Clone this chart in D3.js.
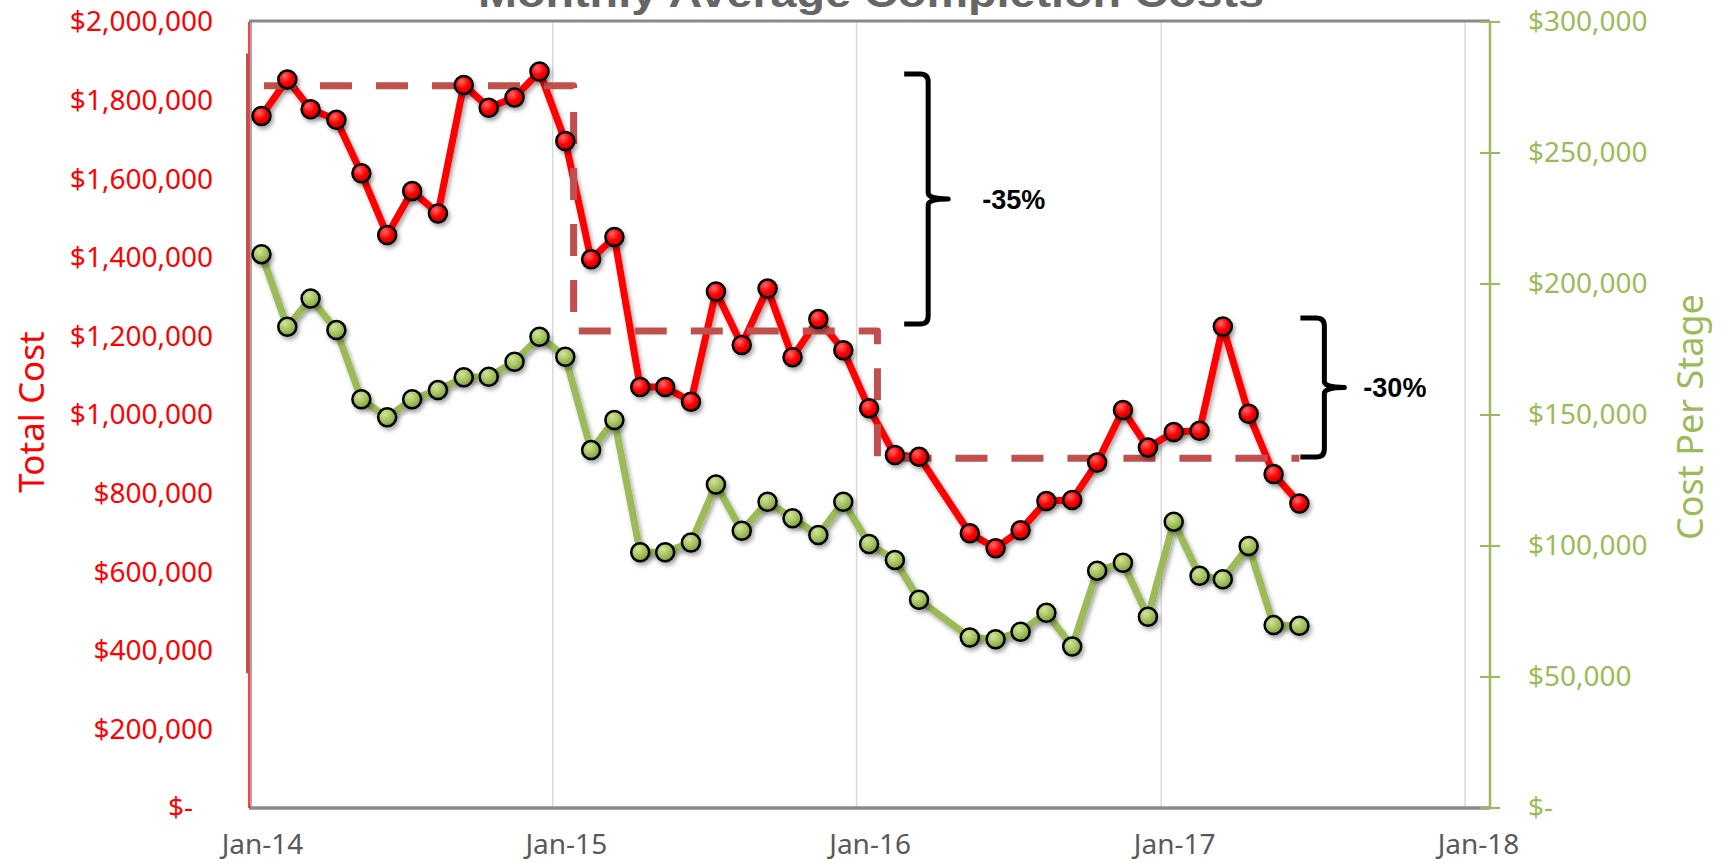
<!DOCTYPE html>
<html><head><meta charset="utf-8">
<script src="https://cdn.jsdelivr.net/npm/d3@7"></script>
<style>html,body{margin:0;padding:0;background:#fff;}svg{display:block;}</style>
</head><body>
<svg id="chart" width="1724" height="863"></svg>
<script>
// ---------- DATA ----------
const months = ["2014-01","2014-02","2014-03","2014-04","2014-05","2014-06","2014-07","2014-08","2014-09","2014-10","2014-11","2014-12",
  "2015-01","2015-02","2015-03","2015-04","2015-05","2015-06","2015-07","2015-08","2015-09","2015-10","2015-11","2015-12",
  "2016-01","2016-02","2016-03","2016-04","2016-05","2016-06","2016-07","2016-08","2016-09","2016-10","2016-11","2016-12",
  "2017-01","2017-02","2017-03","2017-04","2017-05","2017-06"];
const totalCost = [1761000,1854000,1778000,1751000,1615000,1458000,1570000,1513000,1840000,1782000,1808000,1874000,
  1697000,1396000,1453000,1071000,1071000,1034000,1314000,1178000,1322000,1147000,1244000,1165000,
  1017000,898000,894000,null,699000,661000,707000,781000,784000,879000,1013000,917000,
  957000,960000,1225000,1003000,850000,775000];
const costPerStage = [211400,183700,194500,182400,156000,149100,156000,159500,164400,164600,170300,179900,
  172200,136600,148100,97600,97600,101300,123500,105800,116900,110600,104200,116900,
  100800,94700,79500,null,65100,64400,67300,74500,61600,90600,93600,73000,
  109300,88600,87300,100000,69800,69600];
const xTickDates = ["2014-01-01","2015-01-01","2016-01-01","2017-01-01","2018-01-01"];
const xTickLabels = ["Jan-14","Jan-15","Jan-16","Jan-17","Jan-18"];
const leftTicks = [0,200000,400000,600000,800000,1000000,1200000,1400000,1600000,1800000,2000000];
const rightTicks = [0,50000,100000,150000,200000,250000,300000];
// step "average level" annotation
const levelBreaks = ["2014-01-19","2015-01-26","2016-01-26","2017-06-16"];
const levelValues = [1838000,1214000,890000];
// brackets
const bracketDates = ["2016-03-27","2017-07-16"];
const bracketTop = [1868000,1247000];
const bracketBottom = [1231600,893000];
const bracketLabels = ["-35%","-30%"];

// ---------- LAYOUT ----------
const m = {left:249, right:1490, top:22, bottom:808};
const svg = d3.select("#chart");
const parse = d3.utcParse("%Y-%m-%d");
const x = d3.scaleUtc().domain([parse("2014-01-01"), parse("2018-01-31")]).range([m.left, m.right]);
const yL = d3.scaleLinear().domain([0,2000000]).range([m.bottom, m.top]);
const yR = d3.scaleLinear().domain([0,300000]).range([m.bottom, m.top]);
const fmt = d3.format(",");
const money = v => v === 0 ? "$-" : "$" + fmt(v);
const FONT = "'Noto Sans', 'DejaVu Sans', sans-serif";

const defs = svg.append("defs");
const sh = defs.append("filter").attr("id","shadow").attr("x","-20%").attr("y","-20%").attr("width","140%").attr("height","140%");
sh.append("feDropShadow").attr("dx",2).attr("dy",3).attr("stdDeviation",2).attr("flood-color","#000").attr("flood-opacity",0.35);
function grad(id, c0, c1, c2){
  const g = defs.append("radialGradient").attr("id",id).attr("cx","38%").attr("cy","32%").attr("r","70%");
  g.append("stop").attr("offset","0%").attr("stop-color",c0);
  g.append("stop").attr("offset","55%").attr("stop-color",c1);
  g.append("stop").attr("offset","100%").attr("stop-color",c2);
}
grad("gRed","#ff6a6a","#ff0000","#c80000");
grad("gGreen","#d2e49c","#a5c35f","#7f9c3e");

// title (clipped at top, as in the reference)
svg.append("text").attr("x",871).attr("y",7).attr("text-anchor","middle")
  .attr("font-family","'Liberation Sans', Arial, sans-serif").attr("font-weight","bold")
  .attr("font-size",40).attr("fill","#666666")
  .attr("textLength",786).attr("lengthAdjust","spacingAndGlyphs")
  .text("Monthly Average Completion Costs");

// gridlines
svg.append("g").selectAll("line").data(xTickDates.slice(1)).join("line")
  .attr("x1",d=>x(parse(d))).attr("x2",d=>x(parse(d)))
  .attr("y1",m.top).attr("y2",m.bottom)
  .attr("stroke","#d9d9d9").attr("stroke-width",1.5);

// frame: top border and bottom axis line
svg.append("line").attr("x1",m.left).attr("x2",m.right).attr("y1",m.top-1).attr("y2",m.top-1)
  .attr("stroke","#8a8a8a").attr("stroke-width",3);
svg.append("line").attr("x1",m.left).attr("x2",m.right).attr("y1",m.bottom).attr("y2",m.bottom)
  .attr("stroke","#8a8a8a").attr("stroke-width",3.5);

// left axis line(s)
svg.append("line").attr("x1",m.left+2).attr("x2",m.left+2).attr("y1",m.top).attr("y2",m.bottom)
  .attr("stroke","#888").attr("stroke-width",1.5);
svg.append("line").attr("x1",m.left).attr("x2",m.left).attr("y1",m.top).attr("y2",m.bottom)
  .attr("stroke","#ff0000").attr("stroke-width",1.5);
svg.append("line").attr("x1",m.left-1.5).attr("x2",m.left-1.5).attr("y1",yL(1920000)).attr("y2",yL(343000))
  .attr("stroke","#c0504d").attr("stroke-width",3);

// right axis
svg.append("line").attr("x1",m.right).attr("x2",m.right).attr("y1",m.top).attr("y2",m.bottom)
  .attr("stroke","#9bbb59").attr("stroke-width",2.5);
svg.append("g").selectAll("line").data(rightTicks).join("line")
  .attr("x1",m.right-10).attr("x2",m.right+10).attr("y1",d=>yR(d)).attr("y2",d=>yR(d))
  .attr("stroke","#9bbb59").attr("stroke-width",2);

// left tick labels
const gl = svg.append("g").attr("transform",`translate(${m.left},0)`)
  .call(d3.axisLeft(yL).tickValues(leftTicks).tickSize(0).tickPadding(36).tickFormat(money));
gl.select(".domain").remove();
gl.selectAll("text").attr("font-family",FONT).attr("font-size",28).attr("fill","#ff0000")
  .attr("dx",d=>d===0?-20:0);

// right tick labels
const gr = svg.append("g").attr("transform",`translate(${m.right},0)`)
  .call(d3.axisRight(yR).tickValues(rightTicks).tickSize(0).tickPadding(38).tickFormat(money));
gr.select(".domain").remove();
gr.selectAll("text").attr("font-family",FONT).attr("font-size",28).attr("fill","#9bbb59");

// x axis labels
const gx = svg.append("g").attr("transform",`translate(0,${m.bottom})`)
  .call(d3.axisBottom(x).tickValues(xTickDates.map(parse)).tickSize(0).tickPadding(26)
    .tickFormat((d,i)=>xTickLabels[i]));
gx.select(".domain").remove();
gx.selectAll("text").attr("font-family",FONT).attr("font-size",28).attr("fill","#595959").attr("dx",13);

// axis titles
svg.append("text").attr("transform",`translate(44,412) rotate(-90)`).attr("text-anchor","middle")
  .attr("font-family",FONT).attr("font-size",35).attr("fill","#ff0000").text("Total Cost");
svg.append("text").attr("transform",`translate(1703,417) rotate(-90)`).attr("text-anchor","middle")
  .attr("font-family",FONT).attr("font-size",36).attr("fill","#9bbb59").text("Cost Per Stage");

// series
const ptsRed = months.map((mo,i)=>({d:parse(mo+"-16"), v:totalCost[i]})).filter(p=>p.v!=null);
const ptsGreen = months.map((mo,i)=>({d:parse(mo+"-16"), v:costPerStage[i]})).filter(p=>p.v!=null);

const lineL = d3.line().x(p=>x(p.d)).y(p=>yL(p.v));
const lineR = d3.line().x(p=>x(p.d)).y(p=>yR(p.v));

const gLines = svg.append("g").attr("filter","url(#shadow)");
gLines.append("path").datum(ptsGreen).attr("d",lineR).attr("fill","none")
  .attr("stroke","#9bbb59").attr("stroke-width",7).attr("stroke-linejoin","round");
gLines.append("path").datum(ptsRed).attr("d",lineL).attr("fill","none")
  .attr("stroke","#ff0000").attr("stroke-width",7).attr("stroke-linejoin","round");

// dashed step levels
const stepPts = [];
levelValues.forEach((v,i)=>{
  stepPts.push([x(parse(levelBreaks[i])), yL(v)]);
  stepPts.push([x(parse(levelBreaks[i+1])), yL(v)]);
});
svg.append("path").attr("d",d3.line()(stepPts)).attr("fill","none")
  .attr("stroke","#c0504d").attr("stroke-width",7).attr("stroke-dasharray","32 24")
  .attr("stroke-linejoin","round");

// markers
const gM = svg.append("g").attr("filter","url(#shadow)");
gM.selectAll("circle.g").data(ptsGreen).join("circle").attr("class","g")
  .attr("cx",p=>x(p.d)).attr("cy",p=>yR(p.v)).attr("r",9)
  .attr("fill","url(#gGreen)").attr("stroke","#000").attr("stroke-width",2.5);
gM.selectAll("circle.r").data(ptsRed).join("circle").attr("class","r")
  .attr("cx",p=>x(p.d)).attr("cy",p=>yL(p.v)).attr("r",9)
  .attr("fill","url(#gRed)").attr("stroke","#000").attr("stroke-width",2.5);

// brackets
bracketDates.forEach((bd,i)=>{
  const bx = x(parse(bd)), t = yL(bracketTop[i]), b = yL(bracketBottom[i]), mid = (t+b)/2;
  const hw = 24, tip = 20, r = 8;
  const p = `M${bx-hw},${t} L${bx-r},${t} Q${bx},${t} ${bx},${t+r} L${bx},${mid-6} Q${bx},${mid} ${bx+tip},${mid} Q${bx},${mid} ${bx},${mid+6} L${bx},${b-r} Q${bx},${b} ${bx-r},${b} L${bx-hw},${b}`;
  svg.append("path").attr("d",p).attr("fill","none").attr("stroke","#000").attr("stroke-width",5)
    .attr("stroke-linejoin","round");
  svg.append("text").attr("x",bx + (i===0?54:39)).attr("y",mid).attr("dy","0.36em")
    .attr("font-family","'Liberation Sans', Arial, sans-serif").attr("font-weight","bold")
    .attr("font-size",27).attr("fill","#000").text(bracketLabels[i]);
});
</script>
</body></html>
